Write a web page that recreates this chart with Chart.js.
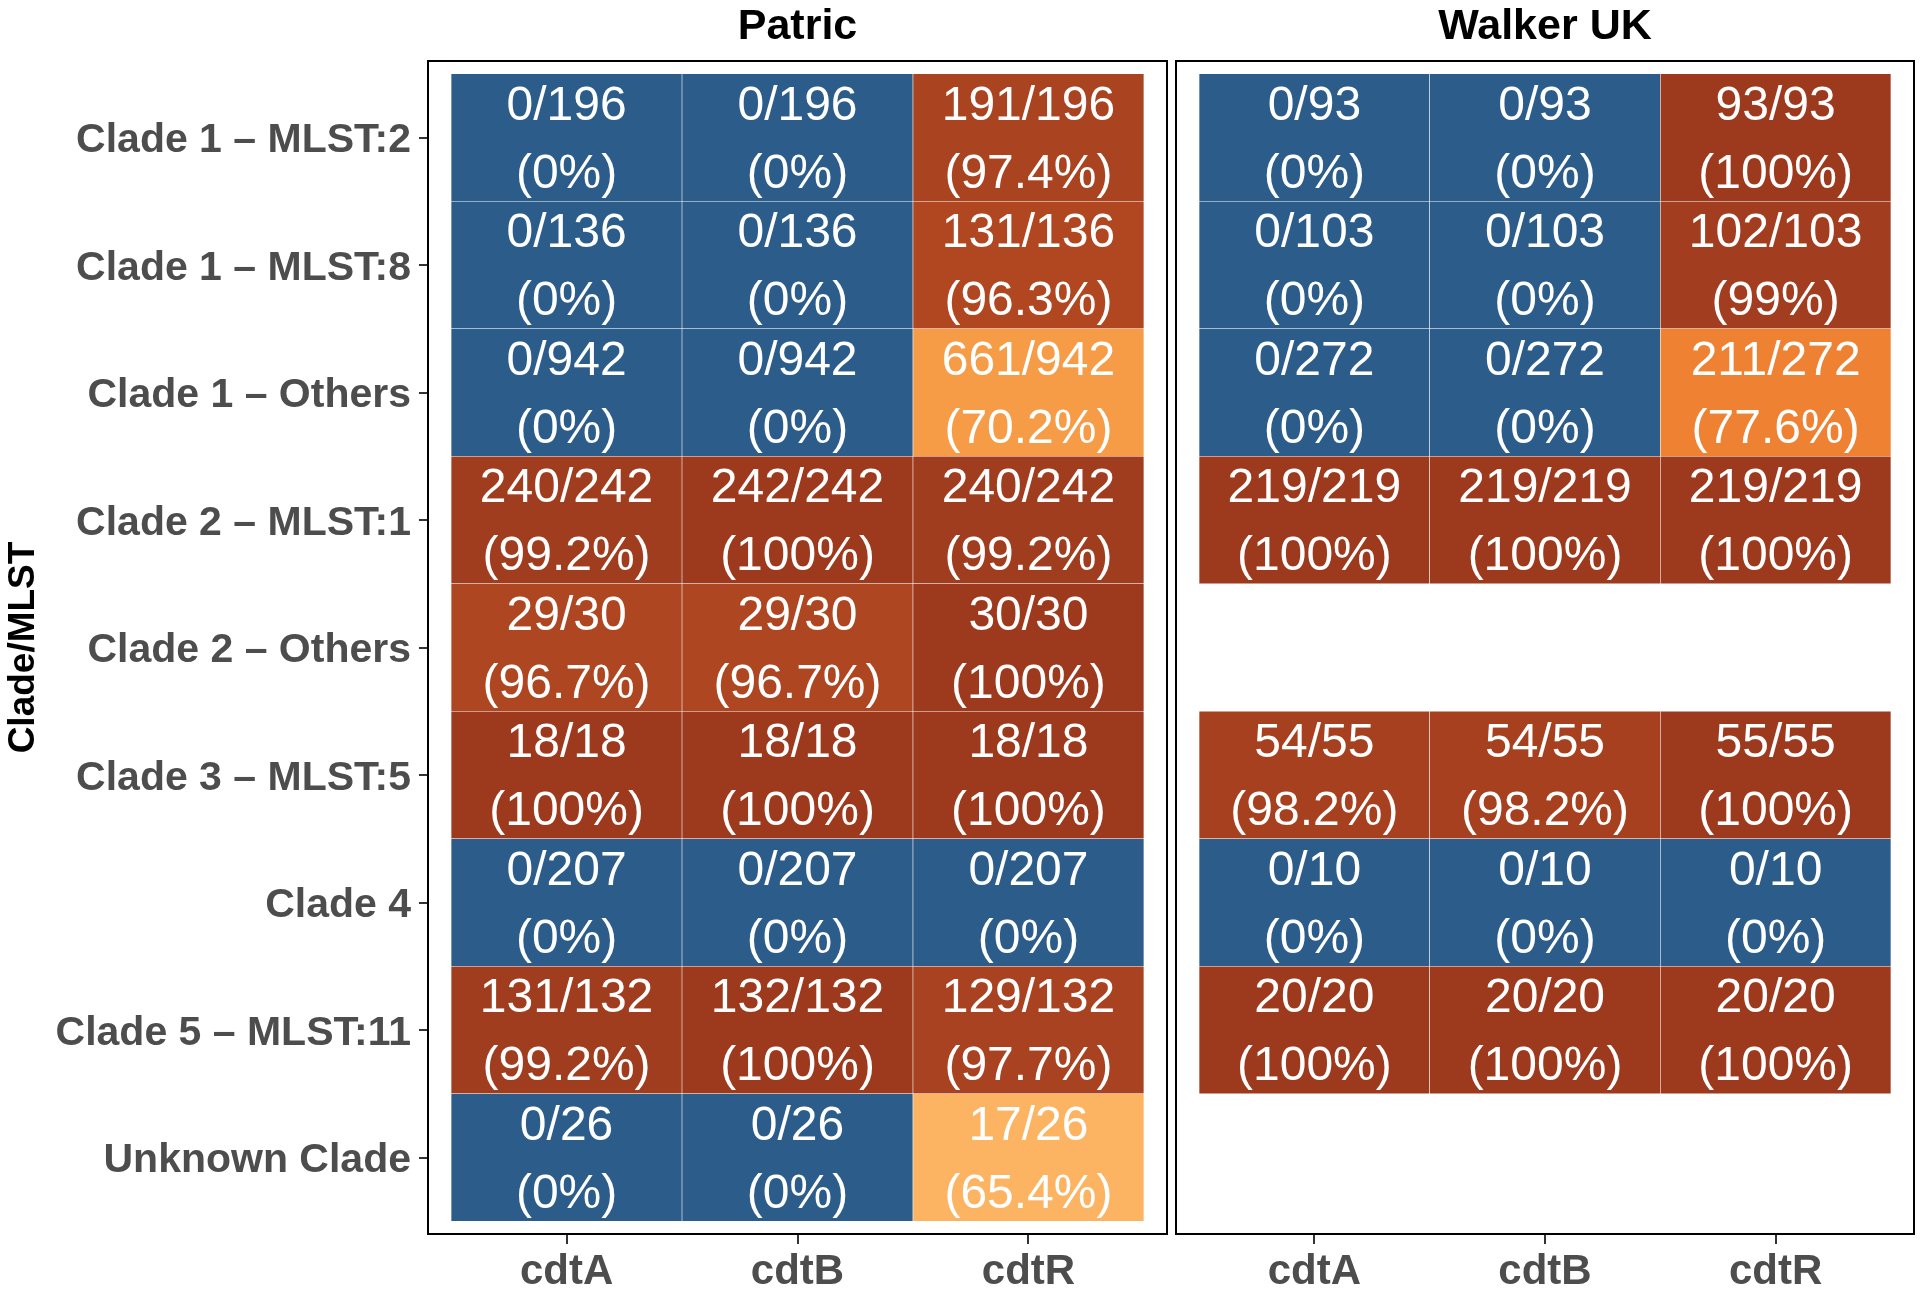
<!DOCTYPE html>
<html lang="en">
<head>
    <meta charset="UTF-8">
    <title>cdt genes by clade</title>
    <script src="https://cdn.jsdelivr.net/npm/chart.js"></script>
    <style>
        body { margin: 0; background: #fff; }
        #wrap { position: relative; width: 1920px; height: 1291px; }
        canvas { position: absolute; top: 0; }
        #patric { left: 0; }
        #walker { left: 1172px; }
    </style>
</head>
<body>
<div id="wrap">
    <canvas id="patric" width="1172" height="1291"></canvas>
    <canvas id="walker" width="748" height="1291"></canvas>
</div>
<script>
const clades = ['Clade 1 – MLST:2', 'Clade 1 – MLST:8', 'Clade 1 – Others', 'Clade 2 – MLST:1',
    'Clade 2 – Others', 'Clade 3 – MLST:5', 'Clade 4', 'Clade 5 – MLST:11', 'Unknown Clade'];
const genes = ['cdtA', 'cdtB', 'cdtR'];

// positive genomes per clade (cdtA, cdtB, cdtR) and genomes per clade
const patricPositive = [[0, 0, 191], [0, 0, 131], [0, 0, 661], [240, 242, 240], [29, 29, 30],
    [18, 18, 18], [0, 0, 0], [131, 132, 129], [0, 0, 17]];
const patricTotal = [196, 136, 942, 242, 30, 18, 207, 132, 26];
const walkerPositive = [[0, 0, 93], [0, 0, 102], [0, 0, 211], [219, 219, 219], null,
    [54, 54, 55], [0, 0, 0], [20, 20, 20], null];
const walkerTotal = [93, 103, 272, 219, null, 55, 10, 20, null];

const FONT = "'Liberation Sans', Arial, Helvetica, sans-serif";

// fill colour along the share of positive genomes
const fillStops = [[0, [44, 92, 138]], [0.654, [253, 180, 98]], [0.702, [247, 156, 70]],
    [0.776, [238, 129, 50]], [0.963, [176, 71, 33]], [1, [157, 58, 30]]];

function fillFor(p) {
    for (let i = 1; i < fillStops.length; i++) {
        const [p1, c1] = fillStops[i];
        const [p0, c0] = fillStops[i - 1];
        if (p <= p1) {
            const t = (p - p0) / (p1 - p0);
            const c = c0.map((v, k) => Math.round(v + (c1[k] - v) * t));
            return 'rgb(' + c.join(',') + ')';
        }
    }
    return 'rgb(' + fillStops[fillStops.length - 1][1].join(',') + ')';
}

function pct(pos, tot) {
    return String(Math.round(pos / tot * 1000) / 10);
}

function cellPoints(positive, total) {
    const pts = [];
    clades.forEach((c, r) => {
        if (!positive[r]) return;
        genes.forEach((g, k) => {
            pts.push({ x: k, y: [r - 0.5, r + 0.5], pos: positive[r][k], tot: total[r] });
        });
    });
    return pts;
}

const cellText = {
    id: 'cellText',
    afterDatasetsDraw(chart) {
        const ctx = chart.ctx;
        const data = chart.data.datasets[0].data;
        ctx.save();
        ctx.fillStyle = '#ffffff';
        ctx.font = '48px ' + FONT;
        ctx.textAlign = 'center';
        ctx.textBaseline = 'middle';
        chart.getDatasetMeta(0).data.forEach((bar, i) => {
            const d = data[i];
            const { x, y, base } = bar.getProps(['x', 'y', 'base'], true);
            const mid = (y + base) / 2 + 3;
            const gap = Math.abs(base - y) * 0.268;
            ctx.fillText(d.pos + '/' + d.tot, x, mid - gap);
            ctx.fillText('(' + pct(d.pos, d.tot) + '%)', x, mid + gap);
        });
        ctx.restore();
    }
};

const frame = { display: true, color: '#000', width: 2 };

function makeChart(id, title, positive, total, showY, leftW, rightW) {
    return new Chart(document.getElementById(id), {
        type: 'bar',
        data: {
            datasets: [{
                data: cellPoints(positive, total),
                xAxisID: 'x',
                yAxisID: 'y',
                backgroundColor: c => fillFor(c.raw.pos / c.raw.tot),
                borderColor: 'rgba(255,255,255,0.75)',
                borderWidth: 0.6,
                borderSkipped: false,
                barPercentage: 1,
                categoryPercentage: 1
            }]
        },
        options: {
            responsive: false,
            devicePixelRatio: 1,
            animation: false,
            events: [],
            plugins: { legend: { display: false }, tooltip: { enabled: false } },
            layout: { padding: 0 },
            scales: {
                x: {
                    type: 'linear', position: 'bottom', min: -0.6, max: 2.6, offset: false,
                    afterBuildTicks: s => { s.ticks = genes.map((g, i) => ({ value: i })); },
                    afterFit: s => { s.height = 57; },
                    ticks: {
                        callback: v => genes[v], autoSkip: false, maxRotation: 0, padding: 3,
                        font: { family: FONT, size: 42, weight: 'bold' }, color: '#4d4d4d'
                    },
                    grid: { offset: false, drawOnChartArea: false, drawTicks: true, tickLength: 10, color: '#333', lineWidth: 2 },
                    border: frame
                },
                xTop: {
                    type: 'linear', position: 'top', min: -0.6, max: 2.6, offset: false,
                    afterFit: s => { s.height = 61; },
                    ticks: { display: false },
                    grid: { display: false, drawTicks: false },
                    border: frame,
                    title: {
                        display: true, text: title, color: '#000', padding: { top: 2.5, bottom: 0 },
                        font: { family: FONT, size: 43, weight: 'bold', lineHeight: 1.14 }
                    }
                },
                y: {
                    type: 'linear', position: 'left', reverse: true, min: -0.6, max: 8.6, offset: false,
                    afterBuildTicks: s => { s.ticks = clades.map((c, i) => ({ value: i })); },
                    afterFit: s => { s.width = leftW; },
                    ticks: {
                        display: showY, callback: v => clades[v], autoSkip: false, padding: 8, labelOffset: 3.5,
                        font: { family: FONT, size: 41, weight: 'bold' }, color: '#4d4d4d'
                    },
                    grid: { display: showY, offset: false, drawOnChartArea: false, drawTicks: showY, tickLength: 9, color: '#333', lineWidth: 2 },
                    border: frame,
                    title: {
                        display: showY, text: 'Clade/MLST', color: '#000', padding: { top: 2, bottom: 0 },
                        font: { family: FONT, size: 37, weight: 'bold' }
                    }
                },
                yRight: {
                    type: 'linear', position: 'right', reverse: true, min: -0.6, max: 8.6, offset: false,
                    afterFit: s => { s.width = rightW; },
                    ticks: { display: false },
                    grid: { display: false, drawTicks: false },
                    border: frame
                }
            }
        },
        plugins: [cellText]
    });
}

makeChart('patric', 'Patric', patricPositive, patricTotal, true, 428, 5);
makeChart('walker', 'Walker UK', walkerPositive, walkerTotal, false, 4, 6);
</script>
</body>
</html>
